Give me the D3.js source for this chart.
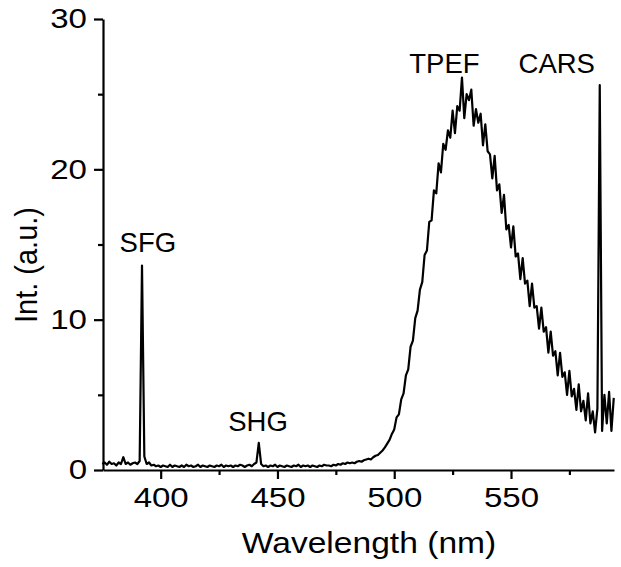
<!DOCTYPE html>
<html>
<head>
<meta charset="utf-8">
<script src="https://cdn.jsdelivr.net/npm/d3@7"></script>
<style>
  body { margin: 0; background: #fff; }
  text { font-family: "Liberation Sans", Arial, sans-serif; fill: #000; }
</style>
</head>
<body>
<div id="chart"></div>
<script>
// Spectrum, one value per nm starting at 375 nm
var startWl = 375;
var intensity = [
    0.4, 0.5, 0.35, 0.55, 0.4, 0.45, 0.3, 0.5, 0.4, 0.85,            // 375-384
    0.4, 0.5, 0.35, 0.45, 0.5, 0.4, 0.6,                              // 385-391
    13.6,                                                             // 392 SFG
    0.9, 0.4, 0.5, 0.3, 0.35, 0.25, 0.3, 0.2, 0.3,                    // 393-401
    0.25, 0.2, 0.35, 0.2, 0.3, 0.25, 0.2, 0.3, 0.2, 0.35,             // 402-411
    0.25, 0.3, 0.2, 0.25, 0.35, 0.2, 0.3, 0.25, 0.2, 0.3,             // 412-421
    0.25, 0.2, 0.3, 0.25, 0.35, 0.2, 0.3, 0.25, 0.3, 0.2,             // 422-431
    0.3, 0.25, 0.35, 0.3, 0.2, 0.3, 0.35, 0.25, 0.4, 0.5,             // 432-441
    1.8,                                                              // 442 SHG
    0.4, 0.25, 0.3, 0.2, 0.3, 0.25, 0.35, 0.2, 0.3,                   // 443-451
    0.25, 0.2, 0.3, 0.25, 0.2, 0.3, 0.25, 0.35, 0.2, 0.3,             // 452-461
    0.25, 0.3, 0.2, 0.3, 0.25, 0.2, 0.3, 0.25, 0.35, 0.3,             // 462-471
    0.3, 0.25, 0.35, 0.3, 0.4, 0.35, 0.45, 0.4, 0.5, 0.45,            // 472-481
    0.5, 0.45, 0.55, 0.6, 0.55, 0.65, 0.7, 0.75, 0.7, 0.85,           // 482-491
    0.95, 1.0, 1.15, 1.3, 1.5, 1.75, 2.0, 2.4, 2.7, 3.5,              // 492-501
    3.7, 4.7, 5.1, 6.3, 6.7, 8.2, 8.6, 10.1, 10.6, 12.0,              // 502-511
    12.5, 14.3, 14.6, 16.5, 16.6, 18.6, 18.4, 20.4, 19.8, 21.7,       // 512-521
    21.3, 22.6, 22.1, 23.9, 22.4, 24.2, 23.9, 26.1, 23.4, 25.0,       // 522-531
    24.6, 25.3, 22.9, 24.0, 23.1, 23.7, 21.6, 23.0, 21.2, 21.0,       // 532-541
    19.4, 20.9, 18.6, 19.0, 17.1, 18.3, 16.0, 16.3, 14.8, 16.2,       // 542-551
    14.2, 14.4, 12.7, 14.1, 12.4, 12.6, 10.9, 12.4, 10.8, 10.9,       // 552-561
    9.4, 10.8, 9.2, 9.5, 7.8, 9.2, 7.6, 7.9, 6.3, 7.8,                // 562-571
    6.2, 6.5, 5.0, 6.6, 4.9, 5.4, 4.0, 5.7, 3.9, 4.6,                 // 572-581
    3.3, 5.1, 3.1, 3.9, 2.5, 4.1,                                     // 582-587
    25.6,                                                             // 588 CARS
    2.6, 5.0, 3.1, 5.2, 2.6, 4.8                                      // 589-594
];

var xTicks = [400, 450, 500, 550];
var xMinorTicks = [425, 475, 525, 575];
var yTicks = [0, 10, 20, 30];
var yMinorTicks = [5, 15, 25];

var peakLabels = ["SFG", "SHG", "TPEF", "CARS"];
var peakLabelWl = [394.5, 441.7, 521.5, 569.6];
var peakLabelY = [14.5, 2.6, 26.4, 26.4];

var margin = {top: 19, right: 7, bottom: 97, left: 103},
    width = 621 - margin.left - margin.right,
    height = 567 - margin.top - margin.bottom;

var data = intensity.map(function (v, i) {
    return {wl: startWl + i, v: v};
});

var svg = d3.select("#chart")
    .append("svg")
    .attr("width", width + margin.left + margin.right)
    .attr("height", height + margin.top + margin.bottom)
    .append("g")
    .attr("transform", `translate(${margin.left},${margin.top})`);

var x = d3.scaleLinear()
    .domain([375.3, 594.1])
    .range([0, width]);

var y = d3.scaleLinear()
    .domain([0, 30])
    .range([height, 0]);

// X axis, major then minor ticks
var xAxis = svg.append("g")
    .attr("transform", `translate(0,${height})`)
    .call(d3.axisBottom(x).tickValues(xTicks).tickSize(9).tickSizeOuter(0));
xAxis.selectAll("text")
    .attr("y", 17)
    .attr("dy", "0.71em")
    .attr("transform", "scale(1.18,1)")
    .style("font-size", "28px");

svg.append("g")
    .attr("transform", `translate(0,${height})`)
    .call(d3.axisBottom(x).tickValues(xMinorTicks).tickSize(5).tickFormat(""))
    .select(".domain").remove();

// Y axis
var yAxis = svg.append("g")
    .call(d3.axisLeft(y).tickValues(yTicks).tickSize(9).tickSizeOuter(0));
yAxis.selectAll("text")
    .attr("x", -16 / 1.18)
    .attr("transform", "scale(1.18,1)")
    .style("font-size", "28px");

svg.append("g")
    .call(d3.axisLeft(y).tickValues(yMinorTicks).tickSize(5).tickFormat(""))
    .select(".domain").remove();

svg.selectAll(".domain, .tick line")
    .attr("stroke", "#000")
    .attr("stroke-width", 2.2);

// Axis titles
svg.append("text")
    .attr("transform", `translate(${369 - margin.left},${553 - margin.top}) scale(1.12,1)`)
    .attr("text-anchor", "middle")
    .style("font-size", "30px")
    .text("Wavelength (nm)");

svg.append("text")
    .attr("transform", `translate(${37 - margin.left},${265 - margin.top}) rotate(-90) scale(1,1.1)`)
    .attr("text-anchor", "middle")
    .style("font-size", "29px")
    .text("Int. (a.u.)");

// Spectrum
var line = d3.line()
    .x(d => x(d.wl))
    .y(d => y(d.v));

svg.append("path")
    .datum(data)
    .attr("fill", "none")
    .attr("stroke", "#000")
    .attr("stroke-width", 2.2)
    .attr("stroke-linejoin", "round")
    .attr("d", line);

// Peak labels
svg.selectAll(".peak-label")
    .data(peakLabels)
    .join("text")
    .attr("class", "peak-label")
    .attr("x", (d, i) => x(peakLabelWl[i]))
    .attr("y", (d, i) => y(peakLabelY[i]))
    .attr("text-anchor", "middle")
    .style("font-size", "27.5px")
    .text(d => d);
</script>
</body>
</html>
